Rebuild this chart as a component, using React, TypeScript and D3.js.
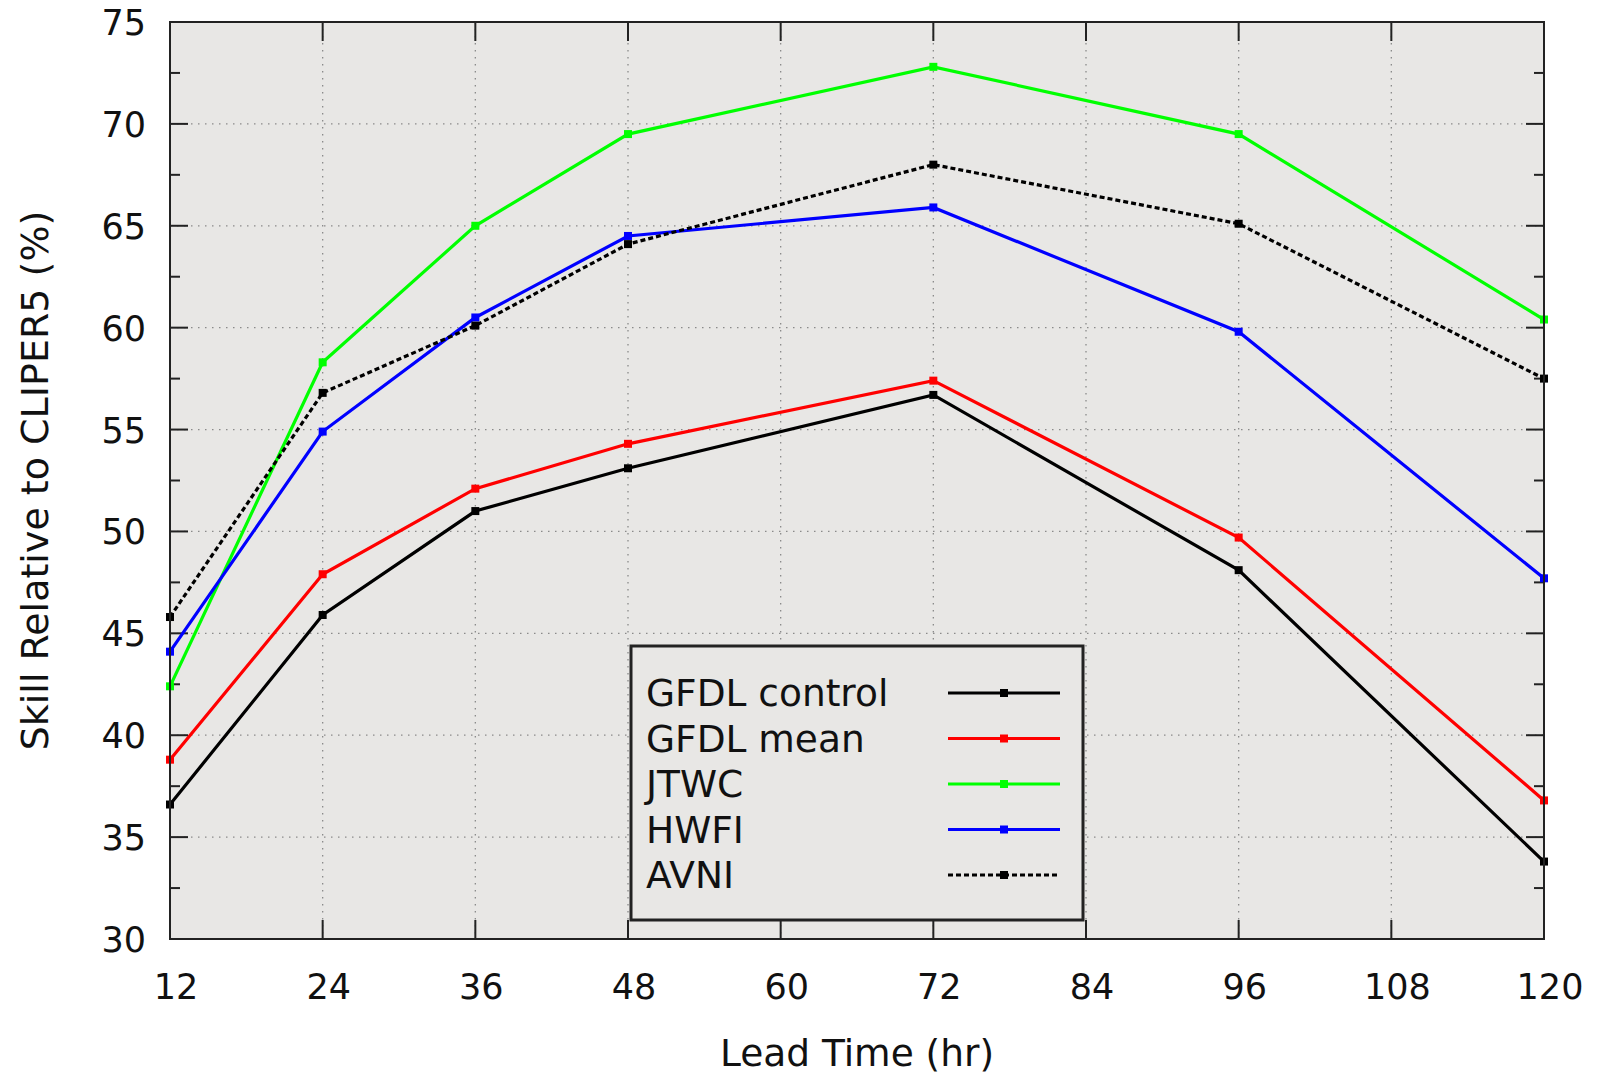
import React from "react";
import * as d3 from "d3";

const leadTimes = [12, 24, 36, 48, 72, 96, 120];
const gfdlControl = [36.6, 45.9, 51.0, 53.1, 56.7, 48.1, 33.8];
const gfdlMean = [38.8, 47.9, 52.1, 54.3, 57.4, 49.7, 36.8];
const jtwc = [42.4, 58.3, 65.0, 69.5, 72.8, 69.5, 60.4];
const hwfi = [44.1, 54.9, 60.5, 64.5, 65.9, 59.8, 47.7];
const avni = [45.8, 56.8, 60.1, 64.1, 68.0, 65.1, 57.5];

const xTicks = [12, 24, 36, 48, 60, 72, 84, 96, 108, 120];
const yTicks = [30, 35, 40, 45, 50, 55, 60, 65, 70, 75];
const yMinorTicks = [32.5, 37.5, 42.5, 47.5, 52.5, 57.5, 62.5, 67.5, 72.5];

const seriesNames = ["GFDL control", "GFDL mean", "JTWC", "HWFI", "AVNI"];
const seriesValues = [gfdlControl, gfdlMean, jtwc, hwfi, avni];
const seriesColors = ["#000000", "#ff0000", "#00ff00", "#0000ff", "#000000"];
const seriesDash = [null, null, null, null, "5,3"];

const W = 1601;
const H = 1074;
const L = 170, R = 1544, T = 22, B = 939;
const FONT = "'DejaVu Sans', Verdana, sans-serif";
const FS = 35;

export default function App() {
  const x = d3.scaleLinear().domain([12, 120]).range([L, R]);
  const y = d3.scaleLinear().domain([30, 75]).range([B, T]);
  const line = d3
    .line<number>()
    .x((_, i) => x(leadTimes[i]))
    .y((d) => y(d));

  const legX = 631, legY = 646, legW = 452, legH = 274;
  const rowY0 = 693, rowDy = 45.5;

  return (
    <svg
      width={W}
      height={H}
      style={{ position: "absolute", left: 0, top: 0, background: "#ffffff" }}
      fontFamily={FONT}
    >
      <rect x={L} y={T} width={R - L} height={B - T} fill="#e8e7e5" />
      {/* grid */}
      {xTicks.filter((t) => t !== 12 && t !== 120).map((t) => (
        <line key={"gx" + t} x1={x(t)} x2={x(t)} y1={T} y2={B} stroke="#8a8a8a" strokeWidth={1.3} strokeDasharray="1.5,5.5" />
      ))}
      {yTicks.filter((t) => t !== 30 && t !== 75).map((t) => (
        <line key={"gy" + t} x1={L} x2={R} y1={y(t)} y2={y(t)} stroke="#8a8a8a" strokeWidth={1.3} strokeDasharray="1.5,5.5" />
      ))}
      {/* ticks */}
      {xTicks.map((t) => (
        <g key={"tx" + t}>
          <line x1={x(t)} x2={x(t)} y1={B} y2={B - 19} stroke="#222" strokeWidth={2} />
          <line x1={x(t)} x2={x(t)} y1={T} y2={T + 19} stroke="#222" strokeWidth={2} />
          <text x={x(t) + 6} y={B + 60} textAnchor="middle" fontSize={FS} fill="#111">
            {t}
          </text>
        </g>
      ))}
      {yTicks.map((t) => (
        <g key={"ty" + t}>
          <line x1={L} x2={L + 18} y1={y(t)} y2={y(t)} stroke="#222" strokeWidth={2} />
          <line x1={R} x2={R - 18} y1={y(t)} y2={y(t)} stroke="#222" strokeWidth={2} />
          <text x={146} y={y(t) + 13} textAnchor="end" fontSize={FS} fill="#111">
            {t}
          </text>
        </g>
      ))}
      {yMinorTicks.map((t) => (
        <g key={"tm" + t}>
          <line x1={L} x2={L + 10} y1={y(t)} y2={y(t)} stroke="#222" strokeWidth={2} />
          <line x1={R} x2={R - 10} y1={y(t)} y2={y(t)} stroke="#222" strokeWidth={2} />
        </g>
      ))}
      {/* series */}
      {seriesValues.map((vals, si) => (
        <g key={"s" + si}>
          <path
            d={line(vals) || ""}
            fill="none"
            stroke={seriesColors[si]}
            strokeWidth={3.2}
            strokeDasharray={seriesDash[si] || undefined}
          />
          {vals.map((v, i) => (
            <rect key={i} x={x(leadTimes[i]) - 4} y={y(v) - 4} width={8} height={8} fill={seriesColors[si]} />
          ))}
        </g>
      ))}
      {/* border */}
      <rect x={L} y={T} width={R - L} height={B - T} fill="none" stroke="#222" strokeWidth={2} />
      {/* legend */}
      <rect x={legX} y={legY} width={legW} height={legH} fill="#e8e7e5" stroke="#222" strokeWidth={3} />
      {seriesNames.map((n, si) => {
        const ry = rowY0 + si * rowDy;
        return (
          <g key={"l" + si}>
            <text x={646} y={ry + 13} fontSize={37.5} fill="#111">
              {n}
            </text>
            <line
              x1={948}
              x2={1060}
              y1={ry}
              y2={ry}
              stroke={seriesColors[si]}
              strokeWidth={3.2}
              strokeDasharray={seriesDash[si] || undefined}
            />
            <rect x={1000} y={ry - 4} width={8} height={8} fill={seriesColors[si]} />
          </g>
        );
      })}
      {/* axis labels */}
      <text x={(L + R) / 2} y={1066} textAnchor="middle" fontSize={37.5} fill="#111">
        Lead Time (hr)
      </text>
      <text
        transform={`translate(48, ${(T + B) / 2}) rotate(-90)`}
        textAnchor="middle"
        fontSize={38}
        fill="#111"
      >
        Skill Relative to CLIPER5 (%)
      </text>
    </svg>
  );
}
